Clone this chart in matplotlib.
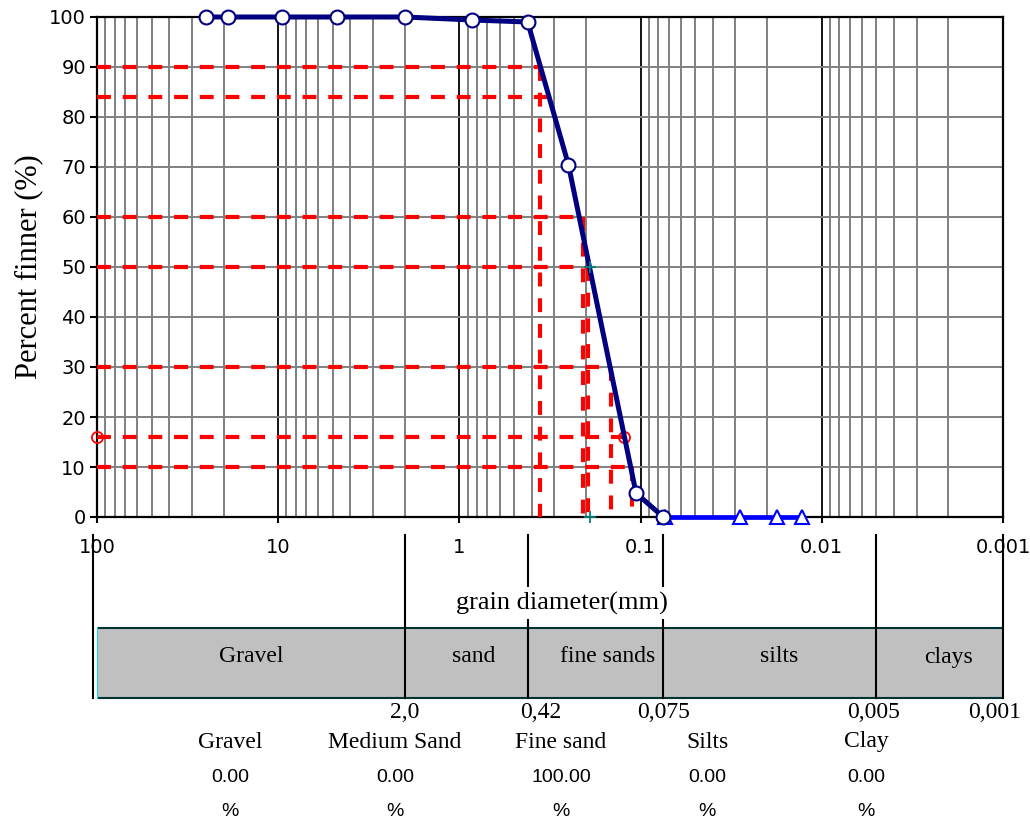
import numpy as np
import matplotlib
matplotlib.use("Agg")
import matplotlib.pyplot as plt
from matplotlib.ticker import LogLocator, NullFormatter

# sieve analysis: grain size (mm) and percent finer
sieve_d = [25, 19, 9.5, 4.75, 2.0, 0.85, 0.42, 0.25, 0.106, 0.075]
sieve_p = [100, 100, 100, 100, 100, 99.4, 99.0, 70.4, 4.8, 0.0]

# hydrometer analysis
hydro_d = [0.073, 0.0284, 0.0177, 0.0129]
hydro_p = [0, 0, 0, 0]

# characteristic diameters
d_pct = [90, 84, 60, 50, 30, 16, 10]
d_mm = [0.357, 0.31, 0.209, 0.194, 0.1465, 0.124, 0.112]
d_vertical = [True, False, True, True, True, False, True]

# D16 markers and D50 crosses
d16_x = [100, 0.124]
d16_y = [16, 16]
d50_x = [0.191, 0.191]
d50_y = [50, 0]

x_ticks = [100, 10, 1, 0.1, 0.01, 0.001]
x_tick_labels = ["100", "10", "1", "0.1", "0.01", "0.001"]
y_ticks = list(range(0, 101, 10))

# soil classes band
band_bounds = [100, 2.0, 0.42, 0.075, 0.005, 0.001]
band_bound_labels = ["", "2,0", "0,42", "0,075", "0,005", "0,001"]
band_label_x = [100, 2.0, 0.356, 0.075, 0.00516, 0.00111]
band_names = ["Gravel", "sand", "fine sands", "silts", "clays"]
band_name_x = [14, 0.83, 0.152, 0.0171, 0.00201]

# summary table
frac_names = ["Gravel", "Medium Sand", "Fine sand", "Silts", "Clay"]
frac_values = [0.00, 0.00, 100.00, 0.00, 0.00]
frac_px = [230, 395, 561, 707, 866]

serif = "Liberation Serif"
sans = "DejaVu Sans"
plt.rcParams["lines.scale_dashes"] = False

W, H = 1030, 827
fig = plt.figure(figsize=(W / 100, H / 100), dpi=100)
L, R, T, B = 97, 1003, 17, 517
ax = fig.add_axes([L / W, 1 - B / H, (R - L) / W, (B - T) / H])

ax.set_xscale("log")
ax.set_xlim(100, 0.001)
ax.set_ylim(0, 100)

ax.set_xticks(x_ticks)
ax.set_xticklabels(x_tick_labels, fontfamily=sans, fontsize=14)
ax.xaxis.set_minor_locator(LogLocator(base=10, subs=np.arange(2, 10)))
ax.xaxis.set_minor_formatter(NullFormatter())
ax.set_yticks(y_ticks)
ax.set_yticklabels([str(v) for v in y_ticks], fontfamily=sans, fontsize=14)
ax.tick_params(axis="x", which="major", direction="out", length=4, width=1.5, pad=11)
ax.tick_params(axis="x", which="minor", length=0)
ax.tick_params(axis="y", direction="out", length=5, width=1.5, pad=3)

ax.set_axisbelow(True)
ax.grid(which="minor", axis="x", color="#808080", lw=1.4)
ax.grid(which="major", axis="x", color="black", lw=1.3)
ax.grid(which="major", axis="y", color="#808080", lw=1.4)
for s in ax.spines.values():
    s.set_linewidth(1.6)

ax.set_ylabel("Percent finner (%)", fontfamily=serif, fontsize=22, labelpad=4)

# red construction lines
for p, d, v in zip(d_pct, d_mm, d_vertical):
    ax.plot([100, d], [p, p], color="red", lw=3, dashes=(10, 8.5), zorder=3, clip_on=False)
    if v:
        ax.plot([d, d], [p, 0], color="red", lw=3, dashes=(10, 8.5), zorder=3)
ax.plot(d16_x, d16_y, "o", mfc="none", mec="red", ms=8, mew=1.3, zorder=4, clip_on=False)

ax.plot(hydro_d, hydro_p, color="#0000FF", lw=3.4, marker="^", ms=10, mfc="white",
        mec="#0000FF", mew=1.5, zorder=5, clip_on=False)
ax.plot(sieve_d, sieve_p, color="#000080", lw=3.6, marker="o", ms=10, mfc="white",
        mec="#000080", mew=1.5, zorder=6, clip_on=False)
ax.plot(d50_x, d50_y, "+", color="#008080", ms=9, mew=1.3, zorder=7, clip_on=False)

# lower panel: soil classification band and fractions
ax2 = fig.add_axes([L / W, 0, (R - L) / W, 1 - B / H])
ax2.set_xscale("log")
ax2.set_xlim(100, 0.001)
ax2.set_ylim(H, B)
ax2.axis("off")

band_top, band_bot = 628, 698
ax2.fill_between([band_bounds[0], band_bounds[-1]], band_top, band_bot,
                 color="#C0C0C0", lw=0, zorder=1)
ax2.plot([band_bounds[0], band_bounds[-1]], [band_top, band_top], color="#003333", lw=1.5, zorder=2)
ax2.plot([band_bounds[0], band_bounds[-1]], [band_bot, band_bot], color="#003333", lw=1.5, zorder=2)
ax2.plot([band_bounds[0]] * 2, [band_top, band_bot], color="#00E0E0", lw=1.5, zorder=2)
for i, d in enumerate(band_bounds):
    xx = d * 1.05 if i == 0 else d
    ax2.plot([xx, xx], [535, band_bot], color="black", lw=1.5, zorder=3, clip_on=False)
    if band_bound_labels[i]:
        ax2.text(band_label_x[i], 712, band_bound_labels[i], ha="center", va="center",
                 fontfamily=serif, fontsize=17, clip_on=False)
for name, xc in zip(band_names, band_name_x):
    ax2.text(xc, 657, name, ha="center", va="center", fontfamily=serif, fontsize=17, zorder=4)

ax2.text(0.27, 603, "grain diameter(mm)", ha="center", va="center", fontfamily=serif,
         fontsize=19, zorder=5, bbox=dict(facecolor="white", edgecolor="none", pad=3))

for name, val, px in zip(frac_names, frac_values, frac_px):
    fig.text(px / W, 1 - 742 / H, name, ha="center", va="center", fontfamily=serif, fontsize=17)
    fig.text(px / W, 1 - 778 / H, f"{val:.2f}", ha="center", va="center",
             fontfamily="Liberation Sans", fontsize=14)
    fig.text(px / W, 1 - 812 / H, "%", ha="center", va="center",
             fontfamily="Liberation Sans", fontsize=14)

fig.savefig("out.png", dpi=100)
